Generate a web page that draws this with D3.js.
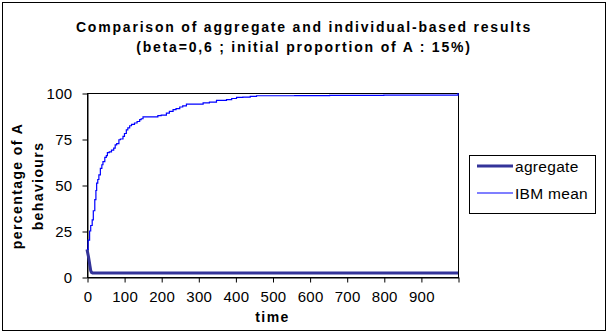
<!DOCTYPE html>
<html>
<head>
<meta charset="utf-8">
<script src="https://cdn.jsdelivr.net/npm/d3@7"></script>
<style>
  html, body { margin: 0; padding: 0; background: #fff; }
  svg { display: block; }
  text { font-family: Arial, "Liberation Sans", sans-serif; fill: #000; }
</style>
</head>
<body>
<script>
// Series: aggregate model vs. mean of the individual-based model (IBM)
const aggTime  = [0, 2, 4, 6, 8, 10, 12, 15, 1000];
const aggValue = [15, 13, 11, 8.5, 6, 3.5, 2.5, 2.2, 2.2];

const ibmTime = [0, 3, 7, 10, 14, 17, 21, 24, 26, 29, 32, 36, 40, 43, 48, 52, 55, 60, 66, 72,
  76, 80, 86, 90, 97, 101, 106, 110, 115, 120, 128, 135, 142, 146, 151, 160, 191, 200, 214,
  222, 232, 240, 250, 258, 268, 290, 313, 330, 349, 360, 376, 390, 403, 420, 440, 457, 500,
  560, 654, 700, 800, 900, 987, 1000];
const ibmValue = [15, 20, 25, 28, 31, 36, 42, 47, 51, 53, 55.5, 59, 61, 62.7, 65, 66, 67.6, 68,
  69, 70, 71.8, 72.5, 74.6, 75, 76.4, 78, 80, 81, 82.2, 83, 83.7, 84.5, 85.5, 86, 87, 87, 87.7,
  88, 89.1, 90, 91, 91.5, 92.4, 93, 94, 94, 94.6, 95, 96, 96, 96.4, 97, 97.6, 97.8, 98.2, 98.5,
  98.5, 98.6, 98.7, 98.7, 98.8, 98.8, 98.8, 100];

const xTicks = [0, 100, 200, 300, 400, 500, 600, 700, 800, 900, 1000];
const xTickLabels = ["0", "100", "200", "300", "400", "500", "600", "700", "800", "900", ""];
const yTicks = [0, 25, 50, 75, 100];

const seriesNames = ["agregate", "IBM mean"];
const titleLines = ["Comparison of aggregate and individual-based results",
                    "(beta=0,6 ; initial proportion of A : 15%)"];
const yTitleLines = ["percentage of A", "behaviours"];
const xTitle = "time";

const W = 609, H = 335;
const plot = { left: 87, right: 458, top: 93, bottom: 277 };

const svg = d3.select("body").append("svg").attr("width", W).attr("height", H);
svg.append("rect").attr("width", W).attr("height", H).attr("fill", "#fff");

// chart frame
svg.append("rect").attr("x", 2.5).attr("y", 2.5).attr("width", 603).attr("height", 328)
  .attr("fill", "none").attr("stroke", "#000");

const x = d3.scaleLinear().domain([0, 1000]).range([plot.left, plot.right]);
const y = d3.scaleLinear().domain([0, 100]).range([plot.bottom, plot.top]);

// plot area border
svg.append("rect")
  .attr("x", plot.left + 0.5).attr("y", plot.top + 0.5)
  .attr("width", plot.right - plot.left).attr("height", plot.bottom - plot.top)
  .attr("fill", "none").attr("stroke", "#000");

// y axis
const yAxis = svg.append("g").attr("transform", `translate(${plot.left + 0.5},0.5)`)
  .call(d3.axisLeft(y).tickValues(yTicks).tickSize(5).tickPadding(10).tickSizeOuter(0));
yAxis.select(".domain").attr("stroke", "#000");
yAxis.selectAll("text").attr("font-size", 15).attr("letter-spacing", 0.3)
  .attr("font-family", "Arial, 'Liberation Sans', sans-serif").attr("fill", "#000");

// x axis
const xAxis = svg.append("g").attr("transform", `translate(0.5,${plot.bottom + 0.5})`)
  .call(d3.axisBottom(x).tickValues(xTicks).tickFormat((d, i) => xTickLabels[i])
    .tickSize(5).tickPadding(9).tickSizeOuter(0));
xAxis.selectAll("text").attr("font-size", 15).attr("letter-spacing", 0.3)
  .attr("font-family", "Arial, 'Liberation Sans', sans-serif").attr("fill", "#000");

// series
const aggData = aggTime.map((t, i) => [t, aggValue[i]]);
const ibmData = ibmTime.map((t, i) => [t, ibmValue[i]]);

svg.append("path").datum(aggData)
  .attr("fill", "none").attr("stroke", "#333399").attr("stroke-width", 3)
  .attr("d", d3.line().x(d => x(d[0])).y(d => y(d[1])));

svg.append("path").datum(ibmData)
  .attr("fill", "none").attr("stroke", "#0000ff").attr("stroke-width", 1.2)
  .attr("d", d3.line().curve(d3.curveStepAfter).x(d => x(d[0])).y(d => y(d[1])));

// titles
const title = svg.append("text").attr("text-anchor", "middle")
  .attr("font-size", 14).attr("font-weight", "bold").attr("letter-spacing", 1.8);
title.append("tspan").attr("x", 304).attr("y", 32).text(titleLines[0]);
title.append("tspan").attr("x", 304).attr("y", 52).text(titleLines[1]);

svg.append("text").attr("x", (plot.left + plot.right) / 2).attr("y", 322)
  .attr("text-anchor", "middle").attr("font-size", 14).attr("font-weight", "bold")
  .attr("letter-spacing", 1.4).text(xTitle);

const yTitleX = [22, 43];
yTitleLines.forEach((s, i) => {
  svg.append("text")
    .attr("transform", `translate(${yTitleX[i]},186) rotate(-90)`)
    .attr("text-anchor", "middle").attr("font-size", 14).attr("font-weight", "bold")
    .attr("letter-spacing", 1.4).text(s);
});

// legend
const legend = svg.append("g");
legend.append("rect").attr("x", 469.5).attr("y", 155.5).attr("width", 126).attr("height", 58)
  .attr("fill", "#fff").attr("stroke", "#000");
const legendStyles = [{ color: "#333399", width: 3, y: 166 }, { color: "#0000ff", width: 1.2, y: 193 }];
seriesNames.forEach((name, i) => {
  const s = legendStyles[i];
  legend.append("line").attr("x1", 477).attr("x2", 513).attr("y1", s.y).attr("y2", s.y)
    .attr("stroke", s.color).attr("stroke-width", s.width);
  legend.append("text").attr("x", 515).attr("y", s.y + 5.5)
    .attr("font-size", 15.5).attr("letter-spacing", 0.3).text(name);
});
</script>
</body>
</html>
